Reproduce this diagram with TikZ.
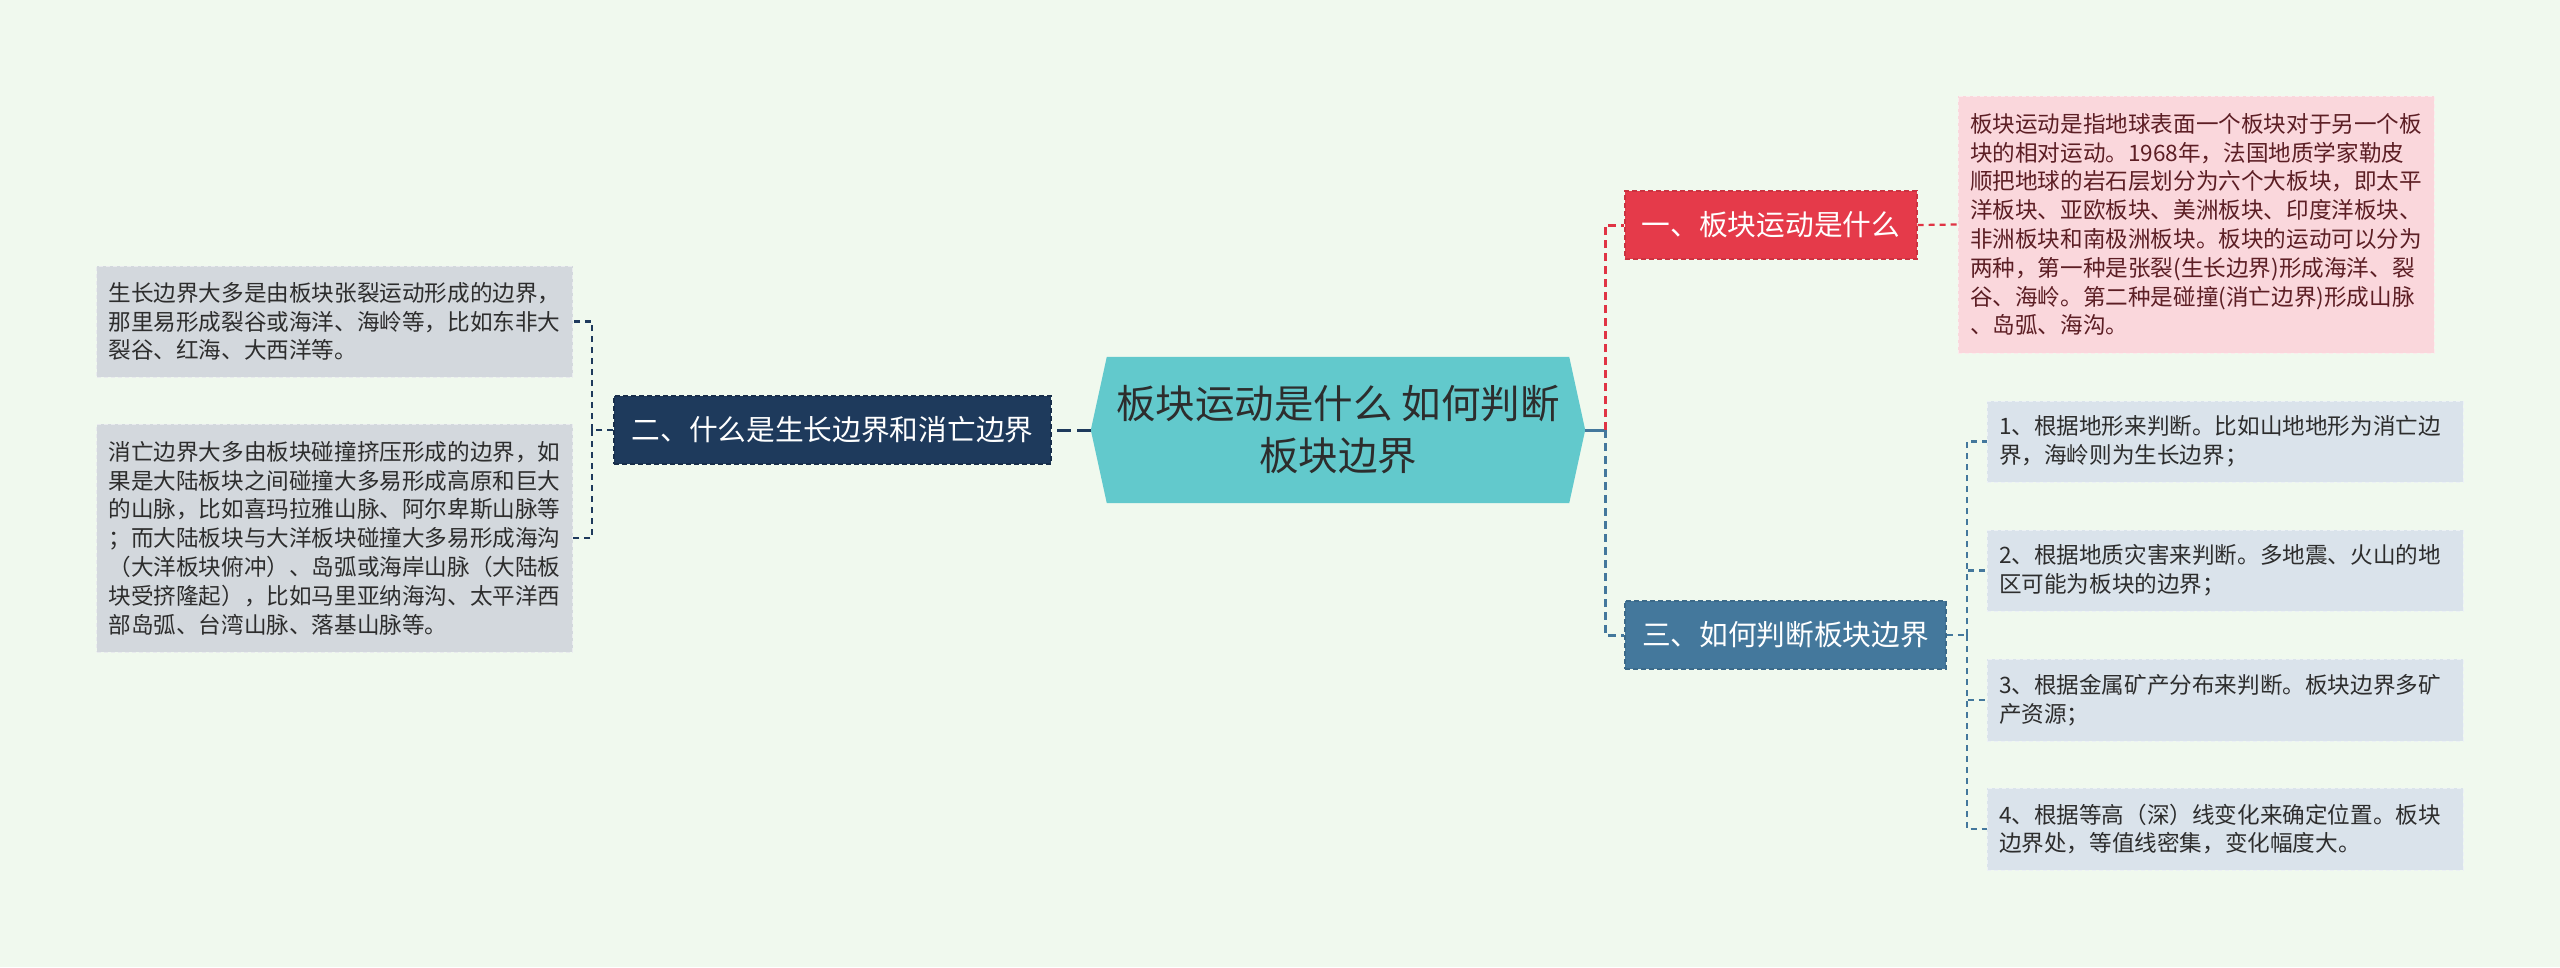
\documentclass[tikz,border=0pt]{standalone}
\usepackage{fontspec}
\setmainfont{Noto Sans CJK SC}
\usetikzlibrary{backgrounds}
\definecolor{bgc}{HTML}{F0F9EE}
\definecolor{centfill}{HTML}{62C9CC}
\definecolor{redfill}{HTML}{E53A4A}
\definecolor{redline}{HTML}{E03444}
\definecolor{navyfill}{HTML}{1E3A5C}
\definecolor{bluefill}{HTML}{44789C}
\definecolor{pinkfill}{HTML}{FAD7DC}
\definecolor{pinktext}{HTML}{5C1E24}
\definecolor{lbluefill}{HTML}{DAE3EB}
\definecolor{grayfill}{HTML}{D3D8DD}
\definecolor{darktext}{HTML}{2D2D2D}
\begin{document}
\begin{tikzpicture}[x=1pt,y=-1pt,
  leafbox/.style={rectangle, inner xsep=12pt, inner ysep=0pt, text width=452pt,
    align=left, dashed, dash pattern=on 4pt off 3pt, line width=1pt,
    font=\fontsize{22.6}{28.8}\selectfont},
  branchbox/.style={rectangle, inner sep=0pt, minimum height=68pt, text=white,
    dashed, dash pattern=on 5pt off 3pt, line width=1.3pt,
    font=\fontsize{28.7}{34}\selectfont},
  busline/.style={line width=3pt, dash pattern=on 8pt off 5pt},
  thinline/.style={line width=2.2pt, dash pattern=on 6pt off 5pt}]
\useasboundingbox (0,0) rectangle (2560,967);

% centre
\node[rectangle, inner sep=0pt, minimum width=494pt, minimum height=146pt,
  align=center, text=darktext, font=\fontsize{39.5}{52}\selectfont] (c) at (1338,430)
  {板块运动是什么 如何判断\\板块边界};
\begin{scope}[on background layer]
\fill[bgc] (0,0) rectangle (2560,967);
\fill[centfill] ([xshift=16pt]c.north west) -- ([xshift=-16pt]c.north east) -- (c.east)
  -- ([xshift=-16pt]c.south east) -- ([xshift=16pt]c.south west) -- (c.west) -- cycle;
\end{scope}

% branches
\node[branchbox, fill=redfill, draw=redfill!88!black, minimum width=292pt] (b1) at (1771,225) {一、板块运动是什么};
\node[branchbox, fill=navyfill, draw=navyfill!80!black, minimum width=437pt] (b2) at (832.5,430) {二、什么是生长边界和消亡边界};
\node[branchbox, fill=bluefill, draw=bluefill!88!black, minimum width=321pt] (b3) at (1785.5,635) {三、如何判断板块边界};

% leaves
\node[leafbox, fill=pinkfill, draw=pinkfill!50!white, text=pinktext, minimum height=257pt] (p) at (2196,224.5)
{板块运动是指地球表面一个板块对于另一个板\\块的相对运动。1968年，法国地质学家勒皮\\顺把地球的岩石层划分为六个大板块，即太平\\洋板块、亚欧板块、美洲板块、印度洋板块、\\非洲板块和南极洲板块。板块的运动可以分为\\两种，第一种是张裂(生长边界)形成海洋、裂\\谷、海岭。第二种是碰撞(消亡边界)形成山脉\\、岛弧、海沟。};

\node[leafbox, fill=lbluefill, draw=lbluefill!50!white, text=darktext, minimum height=81pt] (r1) at (2225,441.5)
{1、根据地形来判断。比如山地地形为消亡边\\界，海岭则为生长边界；};
\node[leafbox, fill=lbluefill, draw=lbluefill!50!white, text=darktext, minimum height=81pt] (r2) at (2225,570.5)
{2、根据地质灾害来判断。多地震、火山的地\\区可能为板块的边界；};
\node[leafbox, fill=lbluefill, draw=lbluefill!50!white, text=darktext, minimum height=82pt] (r3) at (2225,700)
{3、根据金属矿产分布来判断。板块边界多矿\\产资源；};
\node[leafbox, fill=lbluefill, draw=lbluefill!50!white, text=darktext, minimum height=82pt] (r4) at (2225,829)
{4、根据等高（深）线变化来确定位置。板块\\边界处，等值线密集，变化幅度大。};

\node[leafbox, fill=grayfill, draw=grayfill!50!white, text=darktext, minimum height=111pt] (lA) at (334.5,321.5)
{生长边界大多是由板块张裂运动形成的边界，\\那里易形成裂谷或海洋、海岭等，比如东非大\\裂谷、红海、大西洋等。};
\node[leafbox, fill=grayfill, draw=grayfill!50!white, text=darktext, minimum height=228pt] (lB) at (334.5,538)
{消亡边界大多由板块碰撞挤压形成的边界，如\\果是大陆板块之间碰撞大多易形成高原和巨大\\的山脉，比如喜玛拉雅山脉、阿尔卑斯山脉等\\；而大陆板块与大洋板块碰撞大多易形成海沟\\（大洋板块俯冲）、岛弧或海岸山脉（大陆板\\块受挤隆起），比如马里亚纳海沟、太平洋西\\部岛弧、台湾山脉、落基山脉等。};

% connectors right
\draw[bluefill, line width=3pt] (c.east) -- ++(20,0) coordinate (j);
\draw[redline, busline] (j) |- (b1.west);
\draw[bluefill, busline] (j) |- (b3.west);
\draw[redline, thinline] (b1.east) -- (p.west);
\draw[bluefill, thinline] (b3.east) -- ++(20,0) coordinate (k);
\draw[bluefill, thinline] (k) |- (r1.west);
\draw[bluefill, thinline] (k) |- (r2.west);
\draw[bluefill, thinline] (k) |- (r3.west);
\draw[bluefill, thinline] (k) |- (r4.west);

% connectors left
\draw[navyfill, line width=3pt, dash pattern=on 14pt off 6pt] (c.west) -- (b2.east);
\draw[navyfill, thinline] (b2.west) -- ++(-21,0) coordinate (m);
\draw[navyfill, thinline] (m) |- (lA.east);
\draw[navyfill, thinline] (m) |- (lB.east);
\end{tikzpicture}
\end{document}
